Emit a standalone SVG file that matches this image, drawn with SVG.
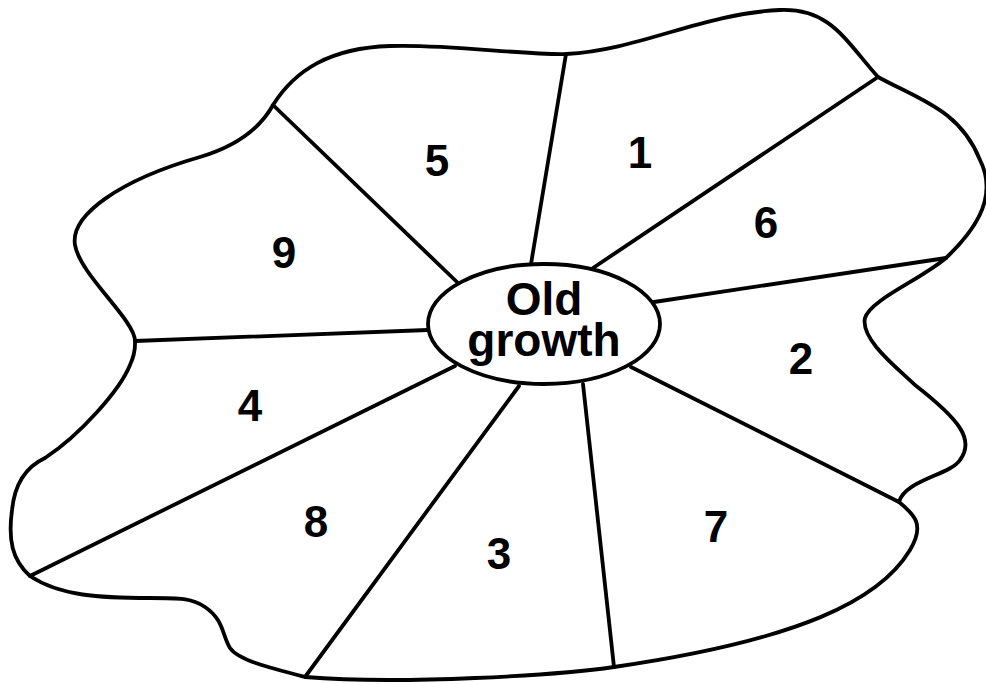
<svg xmlns="http://www.w3.org/2000/svg" width="986" height="684" viewBox="0 0 986 684">
<style>
.ln{fill:none;stroke:#000;stroke-width:3.8;stroke-linecap:round;stroke-linejoin:round}
.num{font-family:"Liberation Sans",Arial,sans-serif;font-weight:bold;font-size:44px;text-anchor:middle;fill:#000}
.ctr{font-family:"Liberation Sans",Arial,sans-serif;font-weight:bold;font-size:46px;text-anchor:middle;fill:#000}
</style>
<rect width="986" height="684" fill="#fff"/>
<g id="outline">
<path class="ln" d="M273,105 C295,70 330,48 390,46 C450,44 520,55 566,54 C640,50 700,14 780,10 C830,8 845,40 878,77 C920,100 960,110 980,160 C1000,200 970,235 946,258 C920,280 870,300 865,318 C860,340 900,370 915,385 C960,420 975,440 960,460 C950,475 905,480 899,502 C915,515 925,525 910,550 C880,600 800,640 614,667 C560,675 400,685 305,677 C270,668 238,660 230,648 C222,635 224,620 205,607 C192,598 180,598 150,598 C100,598 60,596 30,576 C12,560 8,540 12,510 C15,480 30,465 45,458 C80,435 120,390 130,365 C136,352 135,345 135,341 C135,320 80,275 75,245 C70,215 120,180 200,157 C240,145 262,125 273,105 Z"/>
</g>
<g id="connectors">
<line class="ln" x1="273" y1="105" x2="458" y2="283"/>
<line class="ln" x1="566" y1="54" x2="531" y2="264"/>
<line class="ln" x1="878" y1="77" x2="593" y2="268"/>
<line class="ln" x1="946" y1="258" x2="654" y2="302"/>
<line class="ln" x1="899" y1="502" x2="631" y2="367"/>
<line class="ln" x1="614" y1="667" x2="583" y2="384"/>
<line class="ln" x1="305" y1="677" x2="519" y2="386"/>
<line class="ln" x1="30" y1="576" x2="455" y2="366"/>
<line class="ln" x1="135" y1="341" x2="428" y2="330"/>
</g>
<g id="old-growth">
<ellipse class="ln" cx="544" cy="324" rx="116" ry="60" fill="#fff"/>
<text class="ctr" x="544" y="315">Old<tspan x="544" y="356">growth</tspan></text>
</g>
<g id="r1"><text class="num" x="640" y="168">1</text></g>
<g id="r2"><text class="num" x="801" y="374">2</text></g>
<g id="r3"><text class="num" x="499" y="569">3</text></g>
<g id="r4"><text class="num" x="250" y="421">4</text></g>
<g id="r5"><text class="num" x="437" y="176">5</text></g>
<g id="r6"><text class="num" x="766" y="238">6</text></g>
<g id="r7"><text class="num" x="716" y="542">7</text></g>
<g id="r8"><text class="num" x="316" y="537">8</text></g>
<g id="r9"><text class="num" x="284" y="268">9</text></g>
</svg>
